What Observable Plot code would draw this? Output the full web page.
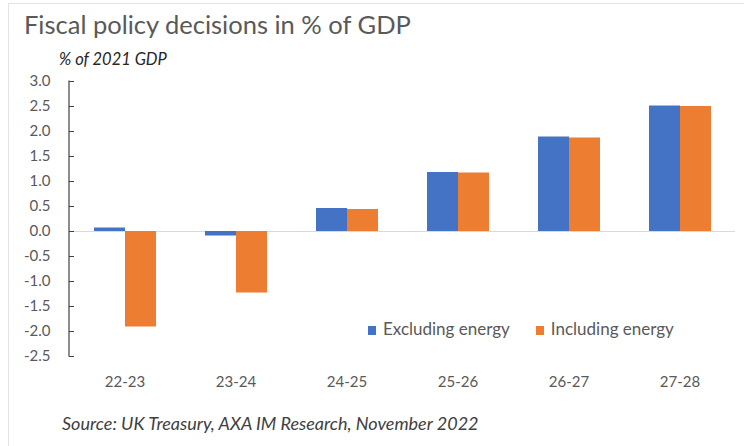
<!DOCTYPE html>
<html><head><meta charset="utf-8">
<script src="https://cdn.jsdelivr.net/npm/d3@7"></script>
<script src="https://cdn.jsdelivr.net/npm/@observablehq/plot@0.6"></script>
<style>
body{margin:0;background:#fff;font-family:Lato, "Open Sans", sans-serif;}
#wrap{position:relative;width:744px;height:446px;overflow:hidden;background:#fff;}
#border{position:absolute;left:8px;top:3px;right:-2px;bottom:-2px;border-top:1px solid #e4e4e4;border-left:1px solid #e4e4e4;}
#title{position:absolute;left:24px;top:9px;font-size:25.5px;color:#595959;white-space:nowrap;}
#sub{position:absolute;left:59px;top:49px;font-size:16.5px;font-style:italic;color:#262626;white-space:nowrap;}
#chart{position:absolute;left:0;top:60px;}
#legend{position:absolute;left:368px;top:318px;font-size:17px;color:#595959;white-space:nowrap;}
#legend span.item{display:inline-block;margin-right:26px;}
#legend span.sw{display:inline-block;width:8px;height:9px;margin-right:7px;vertical-align:0px;}
#caption{position:absolute;left:62px;top:412px;font-size:18px;font-style:italic;color:#404040;white-space:nowrap;}
</style></head>
<body>
<div id="wrap">
<div id="border"></div>
<div id="title">Fiscal policy decisions in % of GDP</div>
<div id="sub">% of 2021 GDP</div>
<div id="chart"></div>
<div id="legend"></div>
<div id="caption">Source: UK Treasury, AXA IM Research, November 2022</div>
</div>
<script>
const categories = ["22-23", "23-24", "24-25", "25-26", "26-27", "27-28"];
const series = ["Excluding energy", "Including energy"];
const excluding = [0.07, -0.09, 0.46, 1.18, 1.89, 2.51];
const including = [-1.91, -1.23, 0.44, 1.17, 1.87, 2.50];
const yTicks = [-2.5, -2.0, -1.5, -1.0, -0.5, 0.0, 0.5, 1.0, 1.5, 2.0, 2.5, 3.0];
const colors = ["#4472C4", "#ED7D31"];

const data = [];
categories.forEach((c, i) => {
  data.push({cat: c, series: series[0], value: excluding[i]});
  data.push({cat: c, series: series[1], value: including[i]});
});

const font = "Lato, 'Open Sans', sans-serif";
const marginLeft = 69;
const chart = Plot.plot({
  width: 744,
  height: 340,
  marginTop: 21,
  marginBottom: 44,
  marginLeft: marginLeft,
  marginRight: 9,
  style: {fontFamily: font, fontSize: "15px", color: "#595959", background: "transparent"},
  fx: {domain: categories, padding: 0, label: null, axis: null},
  x: {domain: series, paddingInner: 0, paddingOuter: 0.755, axis: null},
  y: {domain: [-2.5, 3], axis: null},
  color: {domain: series, range: colors},
  marks: [
    Plot.ruleY([0], {stroke: "#d9d9d9", strokeWidth: 1.2}),
    Plot.barY(data, {fx: "cat", x: "series", y: "value", fill: "series"}),
    Plot.axisFx({anchor: "bottom", tickSize: 0, tickPadding: 20, label: null, fontSize: 15}),
    Plot.axisY(yTicks, {tickSize: 5, tickPadding: 19, dx: 5, tickFormat: d => d.toFixed(1), label: null, fontSize: 15, stroke: "#404040"})
  ]
});
// vertical axis line drawn along the y scale's range
const yr = chart.scale("y").range;
d3.select(chart).append("line")
  .attr("x1", marginLeft).attr("x2", marginLeft)
  .attr("y1", yr[0] + 0.5).attr("y2", yr[1] - 0.5)
  .attr("stroke", "#404040").attr("stroke-width", 1.2);
document.getElementById("chart").appendChild(chart);

const legend = document.getElementById("legend");
series.forEach((s, i) => {
  const item = document.createElement("span");
  item.className = "item";
  const sw = document.createElement("span");
  sw.className = "sw";
  sw.style.background = colors[i];
  item.appendChild(sw);
  item.appendChild(document.createTextNode(s));
  legend.appendChild(item);
});
</script>
</body></html>
